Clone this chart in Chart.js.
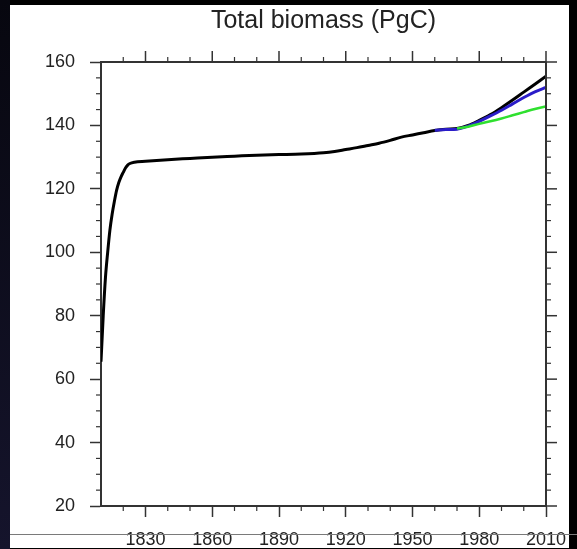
<!DOCTYPE html>
<html>
<head>
<meta charset="utf-8">
<script src="https://cdn.jsdelivr.net/npm/chart.js@4.4.1/dist/chart.umd.min.js"></script>
<style>
    html, body { margin: 0; padding: 0; }
    body { width: 577px; height: 549px; background: #000; position: relative; overflow: hidden; }
    .leftStrip { position: absolute; left: 0; top: 0; width: 10px; height: 549px; background: linear-gradient(#07070f, #15142c); }
    .panel { position: absolute; left: 10px; top: 5px; width: 559px; height: 543px; background: #fff; overflow: hidden; }
    .panel canvas { position: absolute; left: 0; top: 0; }
    .cutLine { position: absolute; left: 10px; top: 534px; width: 567px; height: 1px; background: #7a7a7a; }
</style>
</head>
<body>
<div class="leftStrip"></div>
<div class="panel">
    <canvas id="biomassChart" width="559" height="580"></canvas>
</div>
<div class="cutLine"></div>
<script>
// Biomasa total (PgC)
const blackYears = [1810, 1811, 1812, 1813, 1814, 1815, 1816, 1817, 1818, 1819, 1820, 1821, 1822, 1823, 1825,
    1830, 1840, 1850, 1860, 1870, 1880, 1890, 1900, 1910, 1915, 1920, 1925, 1930, 1935, 1940, 1945,
    1950, 1955, 1960, 1965, 1970, 1975, 1980, 1985, 1990, 1995, 2000, 2005, 2010];
const blackValues = [65.5, 80, 92, 100, 107, 112, 116, 119.5, 122, 123.8, 125.2, 126.6, 127.5, 128, 128.4,
    128.7, 129.2, 129.6, 130.0, 130.3, 130.6, 130.8, 131.0, 131.4, 131.8, 132.4, 133.0, 133.7, 134.4, 135.3, 136.3,
    137.0, 137.7, 138.4, 138.8, 139.0, 140.0, 141.6, 143.4, 145.6, 148.0, 150.5, 153.0, 155.5];

const blueYears = [1960, 1965, 1970, 1975, 1980, 1985, 1990, 1995, 2000, 2005, 2010];
const blueValues = [138.5, 138.7, 138.8, 139.8, 141.3, 143.0, 144.8, 146.8, 148.8, 150.6, 152.0];

const greenYears = [1970, 1975, 1980, 1985, 1990, 1995, 2000, 2005, 2010];
const greenValues = [139.0, 139.6, 140.5, 141.3, 142.2, 143.2, 144.2, 145.2, 146.0];

const xTicks = [1830, 1860, 1890, 1920, 1950, 1980, 2010];
const yTicks = [20, 40, 60, 80, 100, 120, 140, 160];

const toPoints = (xs, ys) => xs.map((x, i) => ({ x: x, y: ys[i] }));

const axisColor = '#333333';
const labelFont = { family: "'Liberation Sans', Arial, sans-serif", size: 18 };

// Marco superior/derecho y marcas menores (estilo NCL)
const axisFrame = {
    id: 'axisFrame',
    afterDraw(chart) {
        const { ctx, chartArea: a, scales: { x, y } } = chart;
        const seg = (x1, y1, x2, y2) => { ctx.beginPath(); ctx.moveTo(x1, y1); ctx.lineTo(x2, y2); ctx.stroke(); };
        ctx.save();
        ctx.strokeStyle = axisColor;
        ctx.lineWidth = 2;
        seg(a.left, a.top, a.right, a.top);
        seg(a.right, a.top, a.right, a.bottom);
        ctx.lineWidth = 1.5;
        xTicks.forEach(v => { const px = x.getPixelForValue(v); seg(px, a.top, px, a.top - 11); });
        yTicks.forEach(v => { const py = y.getPixelForValue(v); seg(a.right, py, a.right + 11, py); });
        ctx.lineWidth = 1.2;
        for (let v = 1820; v < 2010; v += 10) {
            if (xTicks.includes(v)) continue;
            const px = x.getPixelForValue(v);
            seg(px, a.bottom, px, a.bottom + 5);
            seg(px, a.top, px, a.top - 5);
        }
        for (let v = 25; v < 160; v += 5) {
            if (v % 20 === 0) continue;
            const py = y.getPixelForValue(v);
            seg(a.left, py, a.left - 5, py);
            seg(a.right, py, a.right + 5, py);
        }
        ctx.restore();
    }
};

const ctx = document.getElementById('biomassChart').getContext('2d');
new Chart(ctx, {
    type: 'line',
    data: {
        datasets: [
            { label: 'green', data: toPoints(greenYears, greenValues), borderColor: '#2fe02f', borderWidth: 2.5 },
            { label: 'blue', data: toPoints(blueYears, blueValues), borderColor: '#2a1cc8', borderWidth: 3 },
            { label: 'black', data: toPoints(blackYears, blackValues), borderColor: '#000000', borderWidth: 3 }
        ]
    },
    options: {
        responsive: false,
        animation: false,
        devicePixelRatio: 1,
        layout: { padding: { left: 0, right: 23, top: 0, bottom: 0 } },
        elements: {
            point: { radius: 0 },
            line: { cubicInterpolationMode: 'monotone', fill: false }
        },
        plugins: {
            legend: { display: false },
            tooltip: { enabled: false },
            title: { display: false }
        },
        scales: {
            x: {
                type: 'linear',
                min: 1810,
                max: 2010,
                afterBuildTicks: scale => { scale.ticks = xTicks.map(v => ({ value: v })); },
                afterFit: scale => { scale.height = 79; scale.paddingLeft = 0; scale.paddingRight = 0; },
                ticks: {
                    autoSkip: false,
                    maxRotation: 0,
                    padding: 12,
                    color: '#222222',
                    font: labelFont,
                    callback: v => String(v)
                },
                grid: { drawOnChartArea: false, drawTicks: true, tickLength: 11, tickColor: axisColor, tickWidth: 1.5 },
                border: { display: true, color: axisColor, width: 2 }
            },
            // eje superior sin marcas: lleva el título centrado sobre el área del gráfico
            x2: {
                type: 'linear',
                position: 'top',
                min: 1810,
                max: 2010,
                afterFit: scale => { scale.height = 57; scale.paddingLeft = 0; scale.paddingRight = 0; },
                ticks: { display: false },
                grid: { display: false, drawTicks: false },
                border: { display: false },
                title: {
                    display: true,
                    text: 'Total biomass (PgC)',
                    color: '#222222',
                    font: { family: "'Liberation Sans', Arial, sans-serif", size: 25 },
                    padding: { top: 1, bottom: 0 }
                }
            },
            y: {
                min: 20,
                max: 160,
                afterBuildTicks: scale => { scale.ticks = yTicks.map(v => ({ value: v })); },
                afterFit: scale => { scale.width = 91; },
                ticks: {
                    padding: 15,
                    color: '#222222',
                    font: labelFont,
                    callback: v => String(v)
                },
                grid: { drawOnChartArea: false, drawTicks: true, tickLength: 11, tickColor: axisColor, tickWidth: 1.5 },
                border: { display: true, color: axisColor, width: 2 }
            }
        }
    },
    plugins: [axisFrame]
});
</script>
</body>
</html>
